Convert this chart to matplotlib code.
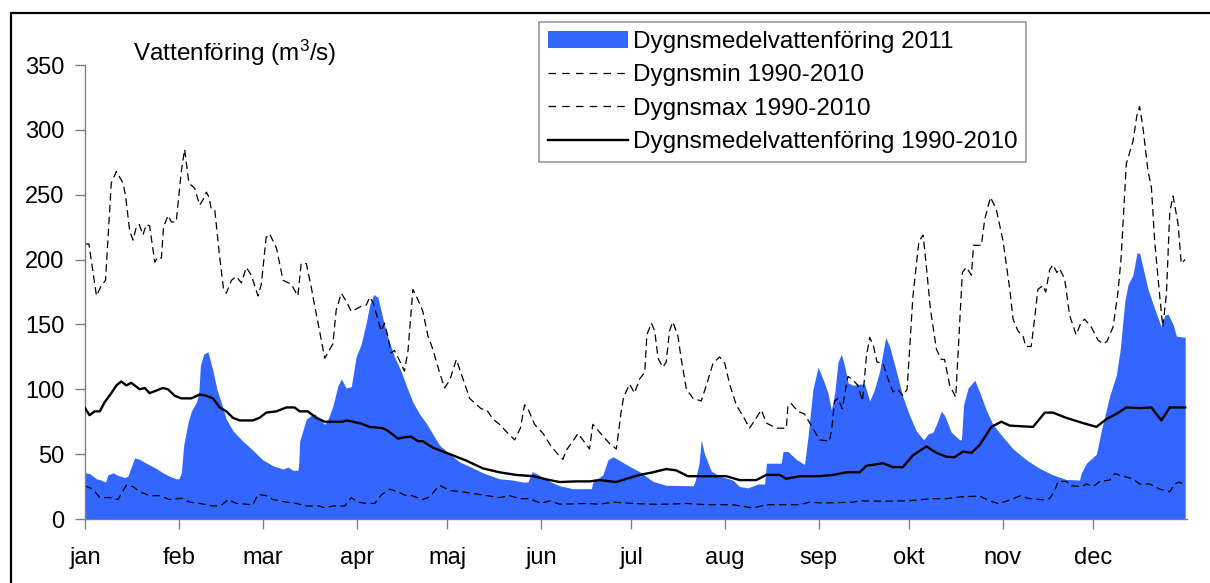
import matplotlib
matplotlib.use('Agg')
import matplotlib.pyplot as plt
from matplotlib.patches import Patch, Rectangle
from matplotlib.lines import Line2D

plt.rcParams['font.family'] = ['Liberation Sans', 'DejaVu Sans']
plt.rcParams['mathtext.fontset'] = 'custom'
plt.rcParams['mathtext.rm'] = 'Liberation Sans'
plt.rcParams['mathtext.it'] = 'Liberation Sans'

# ---------------- data ----------------
months = ['jan', 'feb', 'mar', 'apr', 'maj', 'jun', 'jul', 'aug', 'sep', 'okt', 'nov', 'dec']
month_start = [0, 31, 59, 90, 120, 151, 181, 212, 243, 273, 304, 334]
y_ticks = [0, 50, 100, 150, 200, 250, 300, 350]

labels = ['Dygnsmedelvattenföring 2011', 'Dygnsmin 1990-2010',
          'Dygnsmax 1990-2010', 'Dygnsmedelvattenföring 1990-2010']

# Daily mean flow 2011 (day of year, m3/s)
flow_day = [0, 1.5, 3.8, 5.4, 6.8, 7.6, 9.3, 10.9, 13.1, 14.2, 15.3, 16.4, 18.1, 20.3, 23.6, 25.8,
            28, 30.2, 31.1, 31.9, 32.7, 34.1, 35.2, 36.9, 37.7, 38.2, 39.3, 40.7, 42.4, 43.7, 45.1,
            46.8, 49, 52.3, 55.6, 58.9, 62.3, 65.6, 67.2, 68.9, 70.5, 70.8, 71.1, 73.3, 75, 76.1,
            77.7, 79.4, 80.5, 82.1, 83.8, 84.9, 86.5, 88.2, 89.8, 91.5, 93.2, 94.3, 95.6, 97, 98.7,
            100.3, 102.5, 104.5, 106.4, 108.6, 110.8, 113, 115.2, 117.4, 120.8, 124.1, 127.4, 131.8,
            137.3, 141.7, 145, 146.7, 148.1, 150.6, 153.9, 157.2, 161.6, 167.7, 168.2, 171.5, 173.2,
            174.9, 177.1, 180.4, 183.7, 188.1, 192.5, 201.4, 202, 203.4, 204.1, 205.2, 207.4, 210.2,
            214.6, 216.8, 219.6, 222.9, 225.1, 225.7, 229, 230.6, 231.2, 232.8, 235.6, 238.3, 239.5,
            241.1, 242.8, 244.4, 246.1, 247.2, 248.3, 249.4, 250.5, 251.6, 252.7, 254.4, 256, 258.2,
            259.9, 261.5, 263.2, 265.2, 266.5, 268.7, 270.9, 273.1, 275.3, 277.8, 279.2, 280.9, 282.2,
            283.6, 284.7, 286.9, 289.7, 290.3, 291, 292.5, 294.7, 296.3, 298.5, 300.7, 304.1, 307.4,
            311.8, 316.2, 320.6, 325, 329.4, 330, 331.7, 335, 336.6, 339.4, 341.6, 342.9, 344.4, 345.5,
            347.1, 348.4, 349.3, 351, 352.1, 354.3, 356.5, 357.6, 358.7, 360.4, 361.5, 364.4]
flow_val = [35.6, 35, 31, 30, 28.5, 34, 35.6, 33.6, 32, 33, 40, 47, 46, 43, 39, 35.6,
            33, 31, 31, 35.6, 57, 74, 83, 90, 97, 118, 127, 129, 114, 100, 90,
            77, 68, 60, 53, 45.6, 41, 38.5, 40, 37.6, 37.6, 43, 60, 77, 80, 81,
            77, 73, 77, 87, 103, 108, 101, 102, 125, 135, 152, 165, 173, 171, 154,
            140, 125, 115, 103, 90, 81, 74, 65.5, 57, 50, 44, 40.5, 35.6,
            31, 30, 28.5, 28.5, 36.5, 33.6, 29, 25.6, 23.4, 23.4, 28.5, 34, 45.6,
            48, 45, 40.5, 36.5, 29, 26, 25.6, 28.5, 43, 61, 50, 37, 33,
            30, 25, 24, 27, 27, 43, 43, 43, 52, 52, 46, 42, 64,
            100, 117, 108, 97, 84, 97, 121, 127, 118, 105, 103, 104, 104,
            91, 100, 114, 140, 133, 114, 94, 80, 68, 61, 65.5, 67, 74,
            83, 80, 67, 61, 61, 88, 101, 107, 98, 84, 73, 63, 54,
            45.6, 39, 34, 30.5, 30, 35.6, 43, 50, 68, 95, 111, 131, 168, 181,
            188, 205, 205, 188, 177, 162, 148, 157, 158, 150, 141, 140]

# Daily minimum 1990-2010
min_day = [0, 2.6, 4.9, 8.2, 10.9, 13.7, 15.9, 18.1, 21.4, 24.7, 28, 31.9, 34.7, 38, 42.4, 45.1,
           47.4, 50.1, 55.6, 57.3, 60, 62.3, 66.7, 70, 73.3, 77.7, 79.4, 82.1, 86, 88.2, 90.4,
           93.2, 95.9, 98.1, 100.9, 103.6, 105.8, 108.3, 111.9, 114.1, 117.4, 120.8, 126.3, 131.8,
           137.3, 140.6, 143.9, 147.3, 151.1, 153.9, 157.2, 166, 170.4, 174.9, 181.5, 187, 192.5,
           199.2, 205.8, 214.6, 221.2, 225.7, 236.7, 240, 243.3, 247.7, 254.4, 256.6, 264.3, 272,
           280.9, 285.3, 289.7, 296.3, 299.6, 302.4, 305.2, 309.6, 312.9, 317.3, 319.5, 321.2, 322.3,
           325, 326.7, 330, 331.7, 333.9, 336.1, 339.4, 341, 343.8, 347.1, 349.3, 352.6, 356, 359.3,
           360.9, 362.6, 364.4]
min_val = [25.6, 23, 16.5, 16.5, 15, 26, 25, 21, 18, 18, 15, 16, 13, 12, 10, 10.5,
           15, 12, 11, 19, 18, 15, 13, 12, 10, 10, 8.5, 10, 10, 16.5, 13,
           12, 12, 18.5, 23, 21, 18.5, 18, 15, 17, 26, 22, 20.5, 18.5,
           16.5, 18, 15.7, 15.7, 12, 14, 11.4, 12, 11.4, 13, 12, 11.4, 11.4,
           12, 11, 11, 8.5, 11, 11, 13, 12.5, 12.5, 13, 14, 13.7, 14,
           15.7, 15.7, 17, 17.7, 14, 12, 13.7, 17.7, 15.7, 14.8, 15.7, 22, 29,
           29, 25.6, 25, 27, 25, 29, 30, 35, 33, 31, 27, 27, 23, 21,
           27, 28.5, 25.6]

# Daily maximum 1990-2010
max_day = [0, 1.3, 3.8, 5.4, 6.8, 8.7, 10.4, 12.6, 13.5, 14.8, 15.9, 17, 18, 19.2, 20.3, 21.4,
           23.1, 24.2, 25.3, 26, 27.5, 28.6, 30.2, 31.9, 33, 34.4, 36.3, 38, 39.3, 40.2, 41.1,
           41.8, 43, 44.6, 45.9, 46.8, 48.5, 50.1, 51.8, 53.4, 55.1, 57.3, 58.4, 60, 61.1, 63.4,
           65.6, 68.3, 70.5, 71.6, 73.3, 75, 76.1, 77.2, 79.4, 82.1, 83.2, 84.9, 86.5, 88.2, 89.9,
           91.5, 93.2, 94.3, 95.4, 96.5, 98.1, 99.2, 100.3, 101.4, 102.5, 104.2, 105.8, 107, 108.6,
           110.3, 111.9, 113.6, 115.2, 116.9, 119.1, 120.8, 123, 125.2, 127.4, 131.2, 133.1, 135.1,
           137.3, 140.1, 142.3, 144.2, 145.6, 146.7, 148.9, 151.7, 154.4, 156.6, 158.3, 159.4, 161.6,
           163.3, 164.9, 167.1, 168.2, 170.4, 173.8, 176, 177.6, 178.4, 180.4, 182, 183.7, 185.4,
           186.1, 187.6, 188.7, 189.8, 191.4, 192.5, 193.6, 194.7, 196.4, 197.5, 199.2, 201.4, 204.1,
           205.8, 208, 210.2, 211.9, 213.5, 215.7, 218.5, 220.1, 221.8, 224, 225.7, 229, 232.3,
           232.8, 233.9, 236.1, 238.3, 240.3, 243.3, 246.6, 247.4, 248.3, 249.4, 250.8, 252.7, 254.4,
           256, 257.5, 258.8, 259.9, 261.2, 262.3, 264.3, 266, 267.6, 269.2, 270.9, 272.3, 274.2,
           276.2, 277.6, 278.7, 280, 282, 283.6, 284.7, 286.4, 288.4, 289.5, 290.6, 291.9, 293.6,
           294.3, 296.9, 298, 299.9, 301.8, 304.1, 306.3, 307.4, 309, 310.7, 311.6, 313.4, 314.5,
           315.6, 317.3, 318.2, 319.5, 320.6, 321.9, 322.8, 324.5, 326.1, 328.3, 330, 331.1, 333.3,
           335.5, 337.2, 338.5, 340.5, 342.1, 343.2, 344.9, 347.1, 348.4, 349.3, 350.4, 352.1, 353.2,
           354.3, 356, 357, 358.2, 359.3, 360.4, 362, 363.1, 364.4]
max_val = [212, 212, 172, 180, 184, 259, 268, 259, 248, 222, 215, 225, 227, 219, 227, 226,
           198, 202, 201, 225, 234, 229, 229, 268, 285, 259, 255, 242, 247, 252, 248,
           239, 238, 202, 177, 174, 184, 187, 182, 194, 188, 172, 181, 217, 220, 209,
           184, 181, 172, 197, 197, 178, 164, 151, 124, 135, 161, 174, 168, 160, 162,
           164, 165, 171, 167, 158, 145, 151, 141, 128, 130, 122, 114, 130, 177,
           169, 160, 141, 131, 117, 101, 107, 123, 108, 93, 85, 84, 77,
           73, 66, 61, 70, 88, 85, 73, 66, 56, 50, 46, 53, 60,
           66, 61, 54, 73, 67, 58, 54, 83, 94, 104, 97, 108, 113,
           142, 151, 145, 124, 117, 121, 145, 152, 141, 123, 100, 93, 91,
           103, 120, 125, 120, 104, 88, 77, 70, 76, 84, 74, 70, 70,
           87, 89, 83, 81, 73, 61, 60, 71, 91, 93, 85, 110, 107,
           103, 91, 125, 140, 133, 121, 120, 108, 98, 100, 95, 100, 171,
           214, 219, 194, 162, 131, 123, 123, 103, 94, 142, 190, 194, 188,
           211, 211, 231, 248, 239, 214, 177, 154, 145, 141, 133, 133, 154,
           177, 180, 175, 192, 196, 190, 193, 185, 157, 142, 152, 154, 148,
           138, 135, 137, 148, 174, 202, 274, 291, 311, 318, 302, 268, 256,
           214, 171, 148, 174, 237, 249, 228, 197, 200]

# Daily mean 1990-2010
mean_day = [0, 1.5, 3.2, 4.9, 6.5, 8.7, 10.4, 12, 13.7, 15.3, 18.1, 19.8, 21.4, 23.6, 25.8, 27.5,
            29.7, 31.9, 35.2, 38, 40.2, 42.4, 44.6, 46.8, 49, 51.2, 55.6, 57.8, 60, 63.4, 66.7, 69.4,
            71.1, 73.8, 76.6, 79.4, 82.1, 85.4, 86.5, 88.7, 91.5, 94.3, 98.7, 100.3, 102, 103.6,
            105.8, 108, 110.3, 111.9, 115.2, 120.8, 126.3, 131.8, 137.3, 142.8, 148.4, 153.9, 157.2,
            162.7, 167.1, 170.4, 176, 179.3, 183.7, 188.1, 192.5, 195.8, 199.7, 206.9, 212.4, 216.8,
            222.3, 225.7, 230.1, 232.3, 236.7, 243.3, 247.7, 252.2, 256.6, 258.8, 264.3, 267.6,
            270.9, 274.2, 278.7, 282, 285.3, 288, 290.8, 293.6, 296.3, 300.2, 303.5, 306.3, 314,
            317.9, 320.6, 325, 330.5, 335, 338.3, 341.6, 344.9, 349.3, 353.2, 356.5, 359.3, 364.4]
mean_val = [85.5, 80, 83, 83, 90, 97, 103, 106, 103, 105, 100, 101, 97, 99, 101, 100,
            95, 93, 93, 96, 95, 93, 86, 83, 78, 76, 76, 78, 82, 83, 86, 86,
            83, 83, 78, 75, 75, 75, 76, 75, 73.5, 71, 70, 68, 65, 62,
            63, 63.5, 60, 60, 55, 50, 45, 39, 36, 34, 33, 30, 28.5,
            29, 29, 30, 28.5, 31, 34, 36, 38.5, 37.5, 33, 33, 33, 30,
            30, 34, 34, 31, 33, 33, 34, 36, 36, 41, 43, 40,
            40, 49, 56, 51, 48, 47.6, 52, 51, 57, 71, 75, 72, 71,
            82, 82, 78, 74, 71, 77, 81, 86, 85.5, 86, 76, 86, 86]

# ---------------- figure ----------------
W, H = 1210, 583
fig = plt.figure(figsize=(W / 100, H / 100), dpi=100)
ax = fig.add_axes([85 / W, 1 - 519 / H, (1187 - 85) / W, (519 - 65) / H])

blue = '#3366FF'
ax.fill_between(flow_day, flow_val, 0, color=blue, lw=0, zorder=1)
ax.plot(min_day, min_val, color='black', lw=0.9, dashes=(6, 3.5), zorder=2)
ax.plot(max_day, max_val, color='black', lw=0.9, dashes=(6, 3.5), zorder=2)
ax.plot(mean_day, mean_val, color='black', lw=1.7, zorder=3)

ax.set_xlim(0, 365)
ax.set_ylim(0, 350)
for s in ['top', 'right']:
    ax.spines[s].set_visible(False)
for s in ['left', 'bottom']:
    ax.spines[s].set_color('#808080')
    ax.spines[s].set_linewidth(1.0)
ax.set_xticks(month_start, months)
ax.set_yticks(y_ticks)
ax.tick_params(axis='x', direction='out', length=7, width=1, color='#808080',
               labelsize=17, pad=13)
ax.tick_params(axis='y', direction='out', length=7, width=1, color='#808080',
               labelsize=17, pad=8)

fig.text(133 / W, 1 - 53 / H, 'Vattenföring (m$^{3}$/s)', fontsize=17.5,
         ha='left', va='center')

handles = [Patch(facecolor=blue, edgecolor='none'),
           Line2D([], [], color='black', lw=0.9, dashes=(6, 5)),
           Line2D([], [], color='black', lw=0.9, dashes=(6, 5)),
           Line2D([], [], color='black', lw=1.7)]
leg = fig.legend(handles, labels, loc='upper left',
                 bbox_to_anchor=(539 / W, 1 - 22 / H), fontsize=17.5,
                 frameon=True, fancybox=False, shadow=False,
                 handlelength=3.3, handletextpad=0.2, borderpad=0.36,
                 labelspacing=0.47, borderaxespad=0)
leg.get_frame().set_edgecolor('#808080')
leg.get_frame().set_linewidth(1.2)

fig.add_artist(Rectangle((11 / W, -0.1), 1.2, (1 - 13 / H) + 0.1,
                         transform=fig.transFigure, fill=False,
                         edgecolor='black', lw=1.6))

fig.savefig('out.png', dpi=100)
